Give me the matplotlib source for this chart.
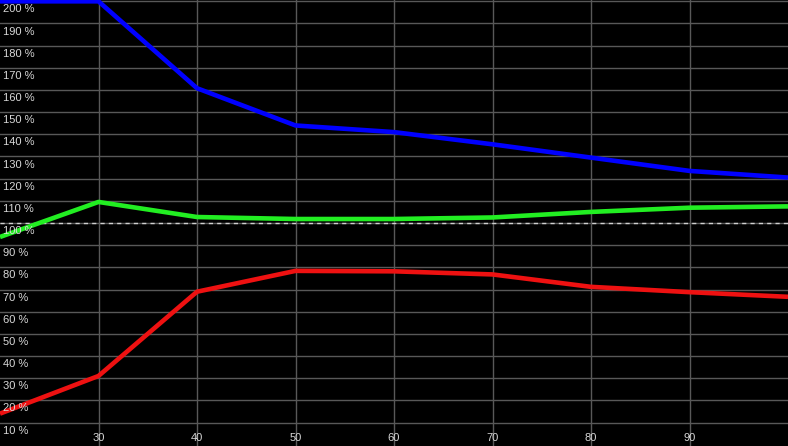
import matplotlib
matplotlib.use("Agg")
import matplotlib.pyplot as plt

# data
x = [20, 30, 40, 50, 60, 70, 80, 90, 100]
blue = [200, 200, 160.8, 144, 141, 135.5, 129.5, 123.5, 120.5]
green = [93.7, 109.5, 102.7, 101.8, 101.8, 102.5, 105, 106.9, 107.5]
red = [14, 31, 69, 78.4, 78.2, 76.8, 71.2, 68.8, 66.7]
x_ticks = [30, 40, 50, 60, 70, 80, 90]
y_ticks = list(range(10, 201, 10))

fig = plt.figure(figsize=(7.88, 4.46), dpi=100)
fig.patch.set_facecolor('black')
ax = fig.add_axes([0, 0, 1, 1])
ax.set_facecolor('black')
ax.set_xlim(20, 100)
ax.set_ylim(-0.6, 200.6)

# grid
for xv in x_ticks:
    ax.axvline(xv, color='#585858', lw=1, zorder=1)
for yv in y_ticks:
    ax.axhline(yv, color='#585858', lw=1, zorder=1)
ax.axhline(100, color='#d0d0d0', lw=1, ls=(0, (3, 3)), zorder=2)

ax.plot(x, blue, color='#0000ff', lw=3.3, zorder=3, solid_capstyle='butt')
ax.plot(x, green, color='#22ee22', lw=3.3, zorder=3, solid_capstyle='butt')
ax.plot(x, red, color='#ee1111', lw=3.3, zorder=3, solid_capstyle='butt')

# labels inside the plot
font = dict(family='Liberation Sans', fontsize=8, color='#d8d8d8')
for yv in y_ticks:
    ax.text(20.3, yv - 1.4, f'{yv} %', ha='left', va='top', zorder=4, **font)
for xv in x_ticks:
    ax.text(xv, 3.2, str(xv), ha='center', va='center', zorder=4, **font)

ax.set_xticks([])
ax.set_yticks([])
for s in ax.spines.values():
    s.set_visible(False)

fig.savefig('out.png', dpi=100, facecolor='black')
